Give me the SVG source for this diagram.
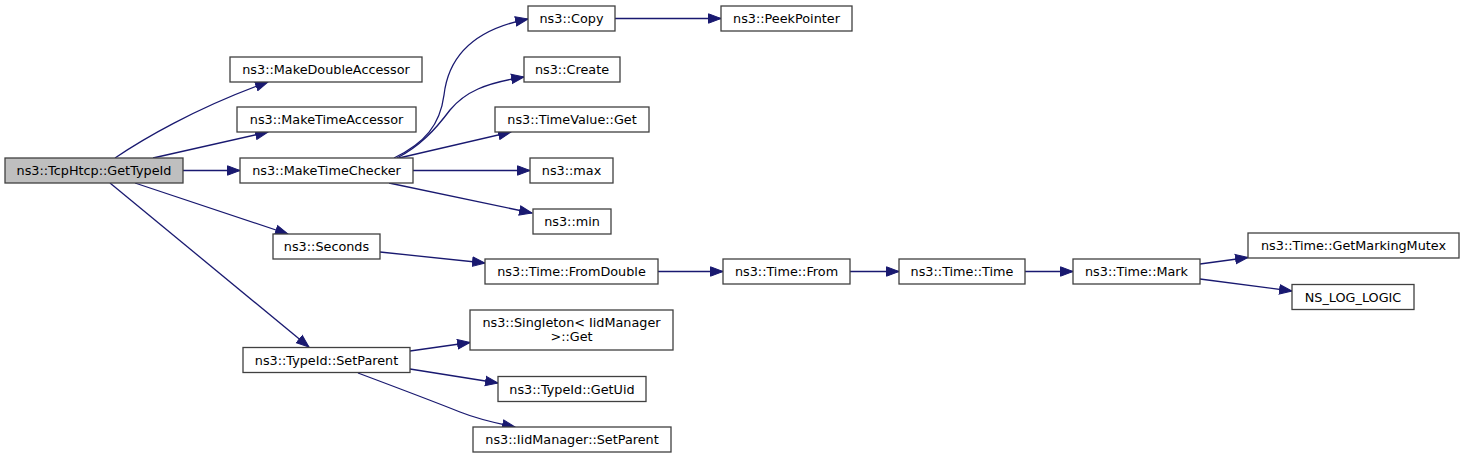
<svg xmlns="http://www.w3.org/2000/svg" width="1464" height="459" viewBox="0 0 1464 459">
<style>
.node rect{fill:#ffffff;stroke:#404040;stroke-width:1.3}
.node.root rect{fill:#bfbfbf}
.node text{font-family:"DejaVu Sans","Liberation Sans",sans-serif;font-size:12.8px;fill:#000000;text-anchor:middle}
.edges path{fill:none;stroke:#191970;stroke-width:1.3;marker-end:url(#ah)}
</style>
<defs>
<marker id="ah" markerUnits="userSpaceOnUse" markerWidth="16" markerHeight="12" viewBox="0 0 16 12" refX="13" refY="6" orient="auto">
<path d="M0.5,1.3 L13,6 L0.5,10.7 Z" fill="#191970" stroke="#191970" stroke-width="1"/>
</marker>
</defs>
<rect width="1464" height="459" fill="#ffffff"/>
<g class="edges" id="edges">
<path d="M115,158 C140,141 195,108 268,82"/>
<path d="M153,158 L268,132"/>
<path d="M183,170.5 L240,170.5"/>
<path d="M135,183 L288,234"/>
<path d="M110,183 L309,347"/>
<path d="M394,158 C425,143 440,125 444,95 C448,60 470,30 528,19"/>
<path d="M397,158 C420,146 435,130 450,110 C465,92 485,83 524,77"/>
<path d="M399,158 L511,132"/>
<path d="M413,170.5 L530,170.5"/>
<path d="M389,183 L532,213"/>
<path d="M615,18.5 L721,18.5"/>
<path d="M380,252 L485,263"/>
<path d="M658,271.5 L723,271.5"/>
<path d="M850,271.5 L899,271.5"/>
<path d="M1025,271.5 L1073,271.5"/>
<path d="M1200,264 L1248,257.5"/>
<path d="M1200,279 L1292,291"/>
<path d="M410,351 L470,342.5"/>
<path d="M410,369 L498,383"/>
<path d="M358,373 C390,385 430,400 460,412 C475,418 495,423 515,427"/>
</g>
<g class="node root" id="n_GetTypeId"><rect x="5" y="158" width="178" height="25"/><text x="94" y="175">ns3::TcpHtcp::GetTypeId</text></g>
<g class="node" id="n_MakeDoubleAccessor"><rect x="230" y="57" width="192" height="25"/><text x="326" y="74">ns3::MakeDoubleAccessor</text></g>
<g class="node" id="n_MakeTimeAccessor"><rect x="237" y="107" width="179" height="25"/><text x="326.5" y="124">ns3::MakeTimeAccessor</text></g>
<g class="node" id="n_MakeTimeChecker"><rect x="240" y="158" width="173" height="25"/><text x="326.5" y="175">ns3::MakeTimeChecker</text></g>
<g class="node" id="n_Seconds"><rect x="273" y="234" width="107" height="25"/><text x="326.5" y="251">ns3::Seconds</text></g>
<g class="node" id="n_TypeIdSetParent"><rect x="243" y="347.5" width="167" height="25"/><text x="326.5" y="364.5">ns3::TypeId::SetParent</text></g>
<g class="node" id="n_Copy"><rect x="528" y="6" width="87" height="25"/><text x="571.5" y="23">ns3::Copy</text></g>
<g class="node" id="n_Create"><rect x="524" y="57" width="96" height="25"/><text x="572" y="74">ns3::Create</text></g>
<g class="node" id="n_TimeValueGet"><rect x="495" y="107" width="154" height="25"/><text x="572" y="124">ns3::TimeValue::Get</text></g>
<g class="node" id="n_max"><rect x="530" y="158" width="83" height="25"/><text x="571.5" y="175">ns3::max</text></g>
<g class="node" id="n_min"><rect x="533" y="209" width="78" height="25"/><text x="572" y="226">ns3::min</text></g>
<g class="node" id="n_FromDouble"><rect x="485" y="259" width="173" height="25"/><text x="571.5" y="276">ns3::Time::FromDouble</text></g>
<g class="node" id="n_SingletonGet"><rect x="470" y="310" width="203" height="40"/><text x="571.5" y="326.5">ns3::Singleton&lt; IidManager</text><text x="571.5" y="341">&gt;::Get</text></g>
<g class="node" id="n_GetUid"><rect x="498" y="376.5" width="148" height="25"/><text x="572" y="393.5">ns3::TypeId::GetUid</text></g>
<g class="node" id="n_IidManagerSetParent"><rect x="473" y="427" width="198" height="25"/><text x="572" y="444">ns3::IidManager::SetParent</text></g>
<g class="node" id="n_PeekPointer"><rect x="721" y="6" width="131" height="25"/><text x="786.5" y="23">ns3::PeekPointer</text></g>
<g class="node" id="n_From"><rect x="723" y="259" width="127" height="25"/><text x="786.5" y="276">ns3::Time::From</text></g>
<g class="node" id="n_TimeTime"><rect x="899" y="259" width="126" height="25"/><text x="962" y="276">ns3::Time::Time</text></g>
<g class="node" id="n_Mark"><rect x="1073" y="259" width="127" height="25"/><text x="1136.5" y="276">ns3::Time::Mark</text></g>
<g class="node" id="n_GetMarkingMutex"><rect x="1248" y="233" width="211" height="25"/><text x="1353.5" y="250">ns3::Time::GetMarkingMutex</text></g>
<g class="node" id="n_NS_LOG_LOGIC"><rect x="1292" y="284.5" width="122" height="25"/><text x="1353" y="301.5">NS_LOG_LOGIC</text></g>
</svg>
